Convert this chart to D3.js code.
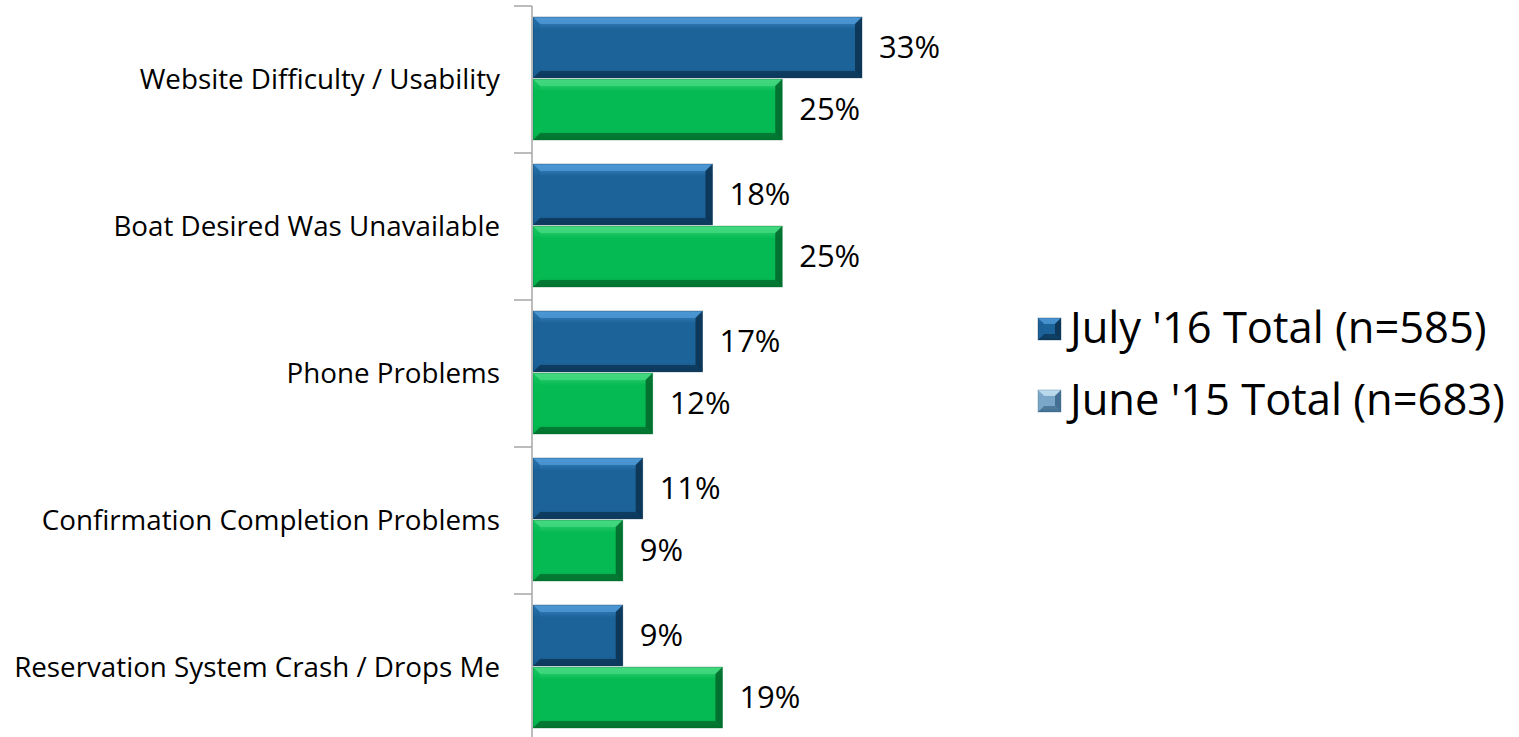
<!DOCTYPE html>
<html><head><meta charset="utf-8">
<script src="https://cdn.jsdelivr.net/npm/d3@7"></script>
<style>html,body{margin:0;padding:0;background:#fff;overflow:hidden}</style>
</head><body>
<svg id="chart" width="1519" height="737"></svg>
<script>
const categories = ["Website Difficulty / Usability","Boat Desired Was Unavailable","Phone Problems","Confirmation Completion Problems","Reservation System Crash / Drops Me"];
const seriesNames = ["July '16 Total (n=585)","June '15 Total (n=683)"];
const july16 = [33,18,17,11,9];
const june15 = [25,25,12,9,19];
const valueLabels = ["33%","18%","17%","11%","9%"];
const valueLabels2 = ["25%","25%","12%","9%","19%"];

const svg = d3.select("#chart");
const FONT = "'Open Sans', 'Noto Sans', sans-serif";
const x = d3.scaleLinear().domain([0, 33]).range([533, 862]);
const y0 = d3.scaleBand().domain(categories).range([6, 741]);
const y1 = d3.scaleBand().domain(seriesNames).range([11, 134]).paddingInner(0.02);

const pal = [
  {base:"#1c6399", light:"#3f8ccb", lighter:"#4f9ad6", dark:"#134d7a", darker:"#0a304f"},
  {base:"#05ba52", light:"#3ed67c", lighter:"#43d880", dark:"#04943f", darker:"#02652a"}
];
const legendPal = [
  pal[0],
  {base:"#7aa6c8", light:"#a8cbe4", lighter:"#c7e2f2", dark:"#4f7ea3", darker:"#3a6688"}
];

const defs = svg.append("defs");
pal.concat([legendPal[1]]).forEach((p,i)=>{
  const g = defs.append("linearGradient").attr("id","g"+i).attr("x1",0).attr("y1",0).attr("x2",0).attr("y2",1);
  g.append("stop").attr("offset","0%").attr("stop-color",p.light);
  g.append("stop").attr("offset","20%").attr("stop-color",p.base);
  g.append("stop").attr("offset","85%").attr("stop-color",p.base);
  g.append("stop").attr("offset","100%").attr("stop-color",p.dark);
});

function bevelBar(g, x0, yTop, w, h, p, gid, b){
  const x1 = x0 + w, yB = yTop + h;
  g.append("rect").attr("x",x0).attr("y",yTop).attr("width",w).attr("height",h).attr("fill","url(#"+gid+")");
  g.append("polygon").attr("points",[[x0,yTop],[x1,yTop],[x1-b,yTop+b],[x0+b,yTop+b]].join(" ")).attr("fill",p.lighter).attr("opacity",0.8);
  g.append("polygon").attr("points",[[x0,yB],[x1,yB],[x1-b,yB-b],[x0+b,yB-b]].join(" ")).attr("fill",p.darker).attr("opacity",0.7);
  g.append("polygon").attr("points",[[x1,yTop],[x1,yB],[x1-b,yB-b],[x1-b,yTop+b]].join(" ")).attr("fill",p.darker).attr("opacity",0.85);
  g.append("polygon").attr("points",[[x0,yTop],[x0,yB],[x0+b,yB-b],[x0+b,yTop+b]].join(" ")).attr("fill",p.base).attr("opacity",0.6);
  g.append("rect").attr("x",x0).attr("y",yTop).attr("width",w).attr("height",h).attr("fill","none").attr("stroke",p.darker).attr("stroke-opacity",0.35).attr("stroke-width",1);
}

const seriesData = [july16, june15];
const labelsData = [valueLabels, valueLabels2];
const plot = svg.append("g");
const valTexts = [];
categories.forEach((c, ci) => {
  seriesNames.forEach((s, si) => {
    const v = seriesData[si][ci];
    const yt = y0(c) + y1(s);
    const h = y1.bandwidth();
    bevelBar(plot, x(0), yt, x(v) - x(0), h, pal[si], "g"+si, 7);
    valTexts.push(plot.append("text").attr("x", x(v) + 17).attr("y", yt + h/2 + 2)
      .attr("dominant-baseline","middle").attr("font-family",FONT).attr("font-size",27)
      .attr("fill","#000").text(labelsData[si][ci]));
  });
});
const vw = valTexts[0].node().getComputedTextLength();
valTexts.forEach(t=>t.attr("font-size", 27*61/vw));

// axis
const ax = svg.append("g");
ax.append("line").attr("x1",532).attr("x2",532).attr("y1",y0.range()[0]).attr("y2",737).attr("stroke","#a6a6a6").attr("stroke-width",1.5);
const tickYs = categories.map(c=>y0(c)).concat([y0.range()[1]]);
tickYs.forEach(t=>{
  ax.append("line").attr("x1",514).attr("x2",532).attr("y1",t).attr("y2",t).attr("stroke","#a6a6a6").attr("stroke-width",1.5);
});

// category labels
const catG = svg.append("g");
const catTexts = categories.map(c =>
  catG.append("text").attr("x",500).attr("y", y0(c) + y0.bandwidth()/2 + 2)
    .attr("text-anchor","end").attr("dominant-baseline","middle")
    .attr("font-family",FONT).attr("font-size",22).attr("fill","#000").text(c));
const w = catTexts[4].node().getComputedTextLength();
const fs = 22 * 486 / w;
catTexts.forEach(t=>t.attr("font-size",fs));

// legend
const lg = svg.append("g");
seriesNames.forEach((s, i) => {
  const ly = 329 + i*72;
  const p = legendPal[i];
  bevelBar(lg, 1038, ly-11, 23, 22, p, i===0?"g0":"g2", 6);
  lg.append("text").attr("x",1070).attr("y",ly+2).attr("dominant-baseline","middle")
    .attr("font-family",FONT).attr("font-size",34).attr("fill","#000").text(s);
});
const lt = lg.selectAll("text").nodes();
const lw = lt[1].getComputedTextLength();
lg.selectAll("text").attr("font-size", 34*435/lw);
</script>
</body></html>
